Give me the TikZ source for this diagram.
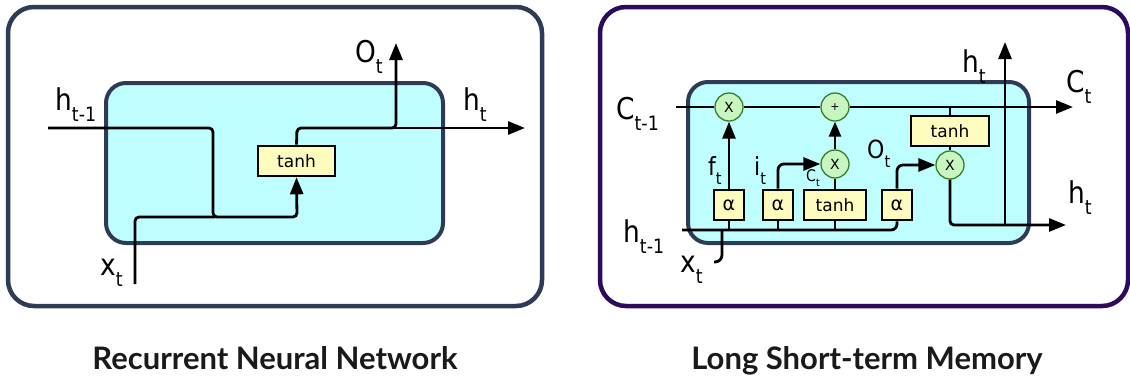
\documentclass[tikz,border=0pt]{standalone}
\usepackage{fontspec}
\setmainfont{DejaVu Sans}
\newfontfamily\capfont{Lato}
\usetikzlibrary{arrows.meta}
\definecolor{navy}{RGB}{46,58,86}
\definecolor{purp}{RGB}{44,10,92}
\definecolor{cyanfill}{RGB}{190,254,254}
\definecolor{yel}{RGB}{254,251,190}
\definecolor{grn}{RGB}{200,246,192}
\definecolor{grnd}{RGB}{60,125,40}
\definecolor{captxt}{RGB}{26,26,26}
\newcommand\sbs[1]{\raisebox{-0.37em}{\scalebox{0.66}{#1}}}
\newcommand\lb[2]{\scalebox{0.88}[1]{#1\sbs{#2}}}
\begin{document}
\begin{tikzpicture}[x=1pt,y=-1pt,
  framebox/.style={draw, line width=4.5pt, rounded corners=26pt, fill=white, inner sep=0},
  cellbox/.style={draw=navy, line width=4pt, rounded corners=20pt, fill=cyanfill, inner sep=0},
  ybox/.style={draw=black, line width=2.6pt, fill=yel, inner sep=0, minimum height=30pt, font=\fontsize{17}{18}\selectfont},
  abox/.style={ybox, minimum width=30pt, font=\fontsize{19}{20}\selectfont},
  circ/.style={circle, draw=grnd, fill=grn, line width=1.3pt, minimum size=28pt, inner sep=0, font=\fontsize{14}{15}\selectfont},
  wire/.style={line width=2.8pt, rounded corners=4pt},
  arr/.style={-{Triangle[length=17pt,width=13pt]}},
  sarr/.style={-{Triangle[length=15pt,width=12pt]}},
  lab/.style={inner sep=0, anchor=base west, font=\fontsize{30}{32}\selectfont},
  slab/.style={inner sep=0, anchor=base west, font=\fontsize{25}{27}\selectfont},
  tlab/.style={inner sep=0, anchor=base west, font=\fontsize{16}{17}\selectfont},
  captext/.style={inner sep=0, anchor=base, text=captxt, font=\capfont\bfseries\fontsize{31}{34}\selectfont}]
\useasboundingbox (0,0) rectangle (1130,381);

% ---------------- RNN ----------------
\node[framebox, draw=navy, minimum width=534pt, minimum height=299pt] (frameL) at (275,156.5) {};
\node[cellbox, minimum width=337pt, minimum height=160pt] (cellL) at (274.5,163) {};
\node[ybox, minimum width=77pt] (tanhL) at (296.5,161) {tanh};
\coordinate (hinL) at (48,128);
\coordinate (xinL) at (135,284);
\coordinate (houtL) at (525,128);
\coordinate (ooutL) at (396,43);
\draw[wire, arr] (hinL) -- (213,128) -- (213,217) -- (297,217) -- (tanhL.south);
\draw[wire] (xinL) -- (135,217) -- (215,217);
\draw[wire, arr] (tanhL.north) -- (297,128) -- (396,128) -- (ooutL);
\draw[wire, arr] (390,128) -- (houtL);
\node[lab] (lhL) at (55,110) {\lb{h}{t-1}};
\node[lab] (lhtL) at (463,110) {\lb{h}{t}};
\node[lab] (loL) at (355,62) {\lb{O}{t}};
\node[lab] (lxL) at (100,275) {\lb{x}{t}};
\node[captext] (capL) at (275,369) {Recurrent Neural Network};

% ---------------- LSTM ----------------
\node[framebox, draw=purp, minimum width=528pt, minimum height=299pt] (frameR) at (864,156.5) {};
\node[cellbox, minimum width=341pt, minimum height=161pt] (cellR) at (858.5,162.5) {};
\node[circ] (fx) at (729,107) {X};
\node[circ, font=\fontsize{11}{12}\selectfont] (plus) at (835,107) {+};
\node[circ] (ix) at (835,164) {X};
\node[circ] (ox) at (950,165) {X};
\node[ybox, minimum width=78pt] (tanhU) at (950,131) {tanh};
\node[abox] (a1) at (729,205) {α};
\node[abox] (a2) at (778,205) {α};
\node[ybox, minimum width=62pt] (tanhM) at (835,205) {tanh};
\node[abox] (a3) at (897,205) {α};
\coordinate (cin) at (676,107);
\coordinate (cout) at (1073,107);
\coordinate (hinR) at (682,230);
\coordinate (xinR) at (714,262);
\coordinate (houtR) at (1066,225);
\coordinate (htopR) at (1005,42);
% cell state line
\draw[wire] (cin) -- (fx.west);
\draw[wire] (fx.east) -- (plus.west);
\draw[wire, arr] (plus.east) -- (cout);
\draw[wire] (950,107) -- (tanhU.north);
\draw[wire] (tanhU.south) -- (ox.north);
% input line
\draw[wire, rounded corners=6pt] (hinR) -- (897,230) -- (a3.south);
\draw[wire, rounded corners=7pt] (xinR) -- (722,262) -- (722,230);
\draw[wire] (a1.south) -- (a1.south |- hinR);
\draw[wire] (a2.south) -- (a2.south |- hinR);
\draw[wire] (tanhM.south) -- (tanhM.south |- hinR);
% gates
\draw[wire, arr] (a1.north) -- (fx.south);
\draw[wire, arr, rounded corners=6pt] (a2.north) -- (778,164) -- (ix.west);
\draw[wire] (tanhM.north) -- (ix.south);
\draw[wire, sarr] (ix.north) -- (plus.south);
\draw[wire, arr, rounded corners=6pt] (a3.north) -- (897,165) -- (ox.west);
\draw[wire, arr] (ox.south) -- (950,225) -- (houtR);
\draw[wire, arr] (1005,225) -- (htopR);
% labels
\node[lab] (lcR) at (616,119) {\lb{C}{t-1}};
\node[lab] (lhR) at (623,242) {\lb{h}{t-1}};
\node[lab] (lxR) at (680,272) {\lb{x}{t}};
\node[lab] (lhtopR) at (962,72) {\lb{h}{t}};
\node[lab] (lctR) at (1066,92) {\lb{C}{t}};
\node[lab] (lhtR) at (1068,203) {\lb{h}{t}};
\node[slab] (lf) at (708,175) {\lb{f}{t}};
\node[slab] (li) at (754,175) {\lb{i}{t}};
\node[slab] (lo) at (867,158) {\lb{O}{t}};
\node[tlab] (lct) at (806,181) {\lb{C}{t}};
\node[captext] (capR) at (867,369) {Long Short-term Memory};
\end{tikzpicture}
\end{document}
